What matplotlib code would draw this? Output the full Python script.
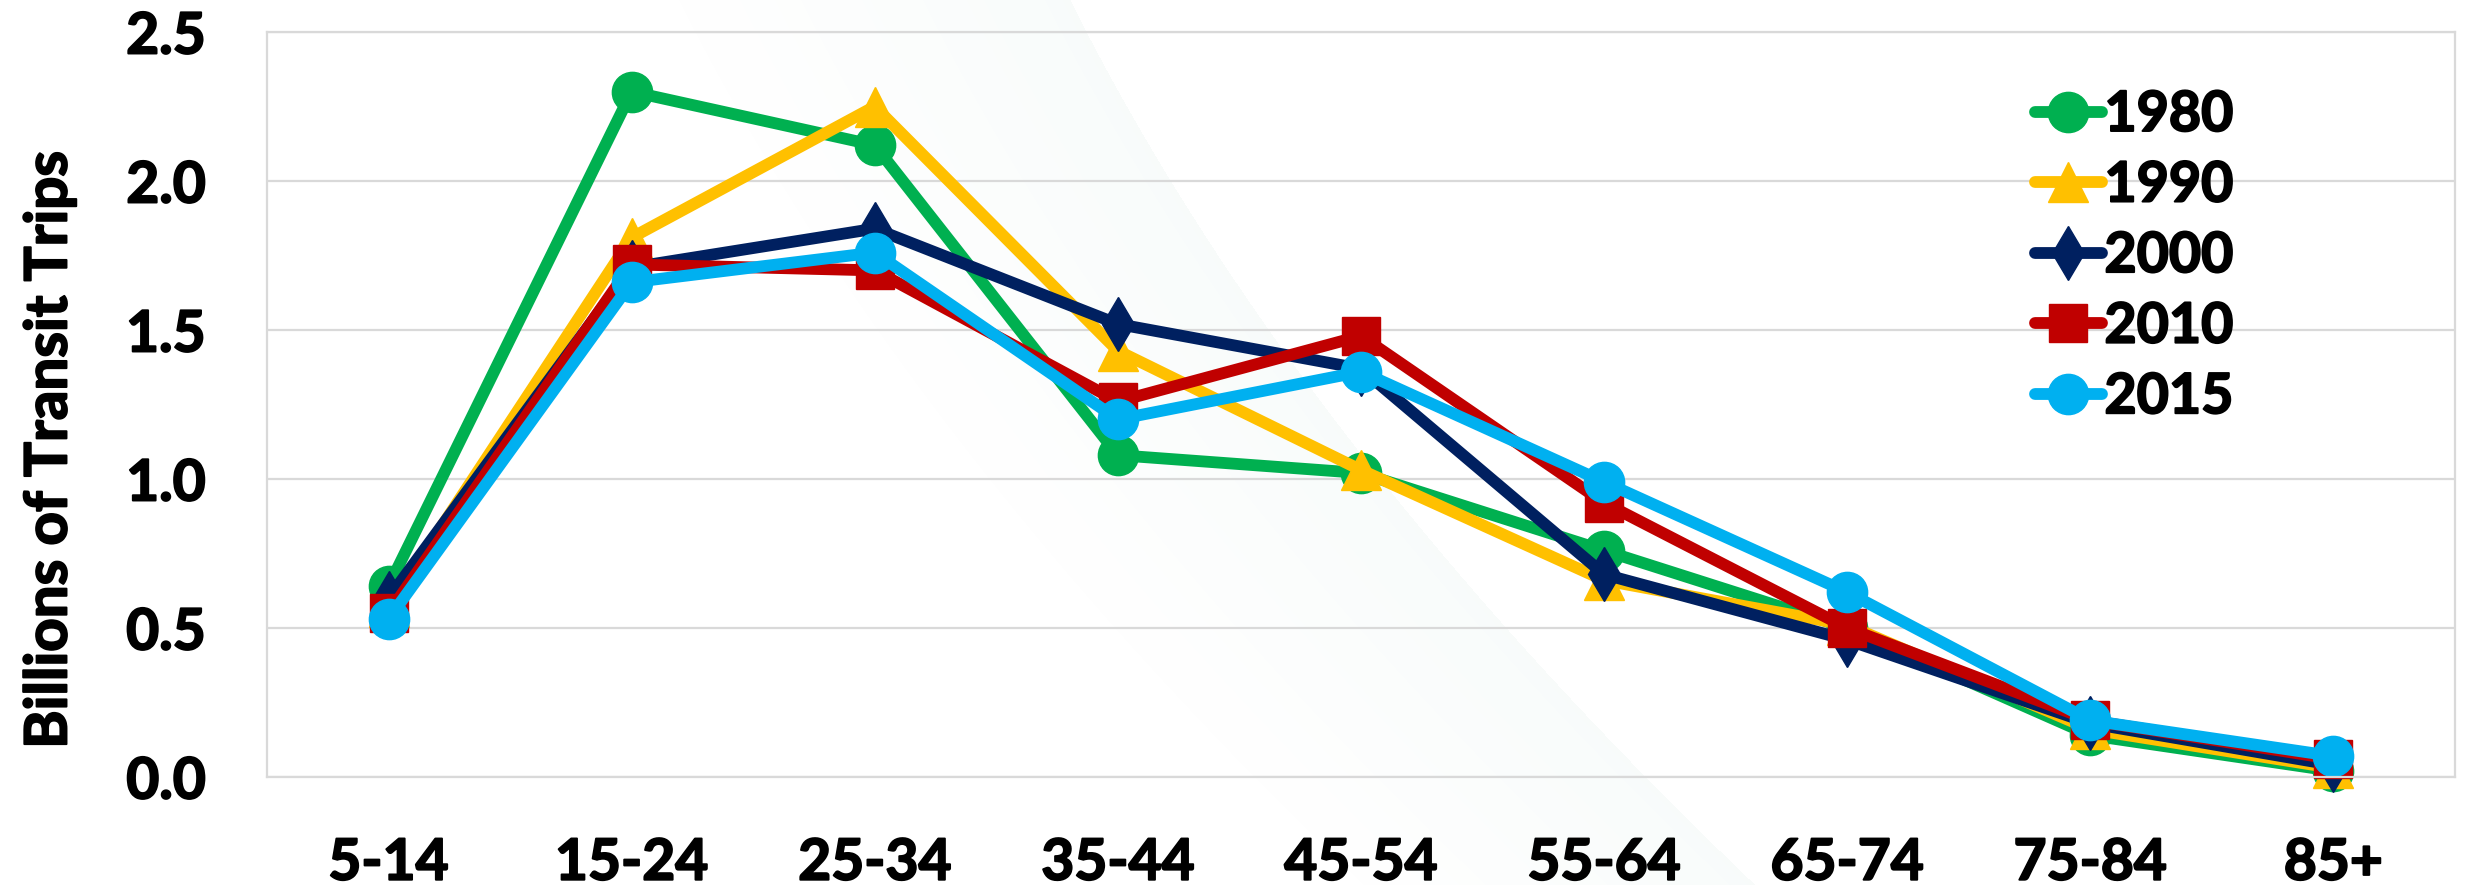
import numpy as np
import matplotlib
import matplotlib.pyplot as plt
import matplotlib.patheffects as pe

matplotlib.use("Agg")

ages = ["5-14", "15-24", "25-34", "35-44", "45-54", "55-64", "65-74", "75-84", "85+"]
years = ["1980", "1990", "2000", "2010", "2015"]

# billions of transit trips by age group
trips_1980 = [0.64, 2.30, 2.12, 1.08, 1.02, 0.76, 0.50, 0.14, 0.02]
trips_1990 = [0.57, 1.81, 2.25, 1.43, 1.03, 0.66, 0.51, 0.16, 0.03]
trips_2000 = [0.60, 1.71, 1.84, 1.52, 1.37, 0.68, 0.46, 0.18, 0.04]
trips_2010 = [0.55, 1.72, 1.70, 1.26, 1.48, 0.92, 0.50, 0.19, 0.06]
trips_2015 = [0.53, 1.66, 1.76, 1.20, 1.36, 0.99, 0.62, 0.19, 0.07]

y_ticks = [0.0, 0.5, 1.0, 1.5, 2.0, 2.5]

series = [trips_1980, trips_1990, trips_2000, trips_2010, trips_2015]
colors = ["#00B050", "#FFC000", "#002060", "#C00000", "#00B0F0"]
markers = ["o", "^", "d", "s", "o"]
msizes = [29, 29, 28, 28, 29]

plt.rcParams["font.family"] = ["Lato", "DejaVu Sans"]
plt.rcParams["font.weight"] = "bold"

# thicken the bold glyphs a little
heavy = [pe.withStroke(linewidth=1.4, foreground="black")]

W, H = 2468, 885
fig = plt.figure(figsize=(W / 100, H / 100), dpi=100)

# faint slide shading behind the chart
bg = fig.add_axes([0, 0, 1, 1], zorder=-1)
yy, xx = np.mgrid[0:H, 0:W]
edge = 1070 + 0.5 * yy + 3.1e-4 * yy ** 2
d = edge - xx
alpha = np.where(d >= 0, np.clip(1 - d / 400, 0, 1) * 0.18, 0)
shade = np.zeros((H, W, 4))
shade[..., 0] = 0.86
shade[..., 1] = 0.93
shade[..., 2] = 0.91
shade[..., 3] = alpha
bg.imshow(shade, extent=(0, W, H, 0), aspect="auto", interpolation="bilinear")
bg.set_xlim(0, W)
bg.set_ylim(H, 0)
bg.axis("off")

ax = fig.add_axes([267 / W, 1 - 777 / H, (2455 - 267) / W, (777 - 32) / H])
ax.set_facecolor("none")

x = np.arange(len(ages))
for vals, year, c, m, ms in zip(series, years, colors, markers, msizes):
    ax.plot(
        x,
        vals,
        color=c,
        marker=m,
        markersize=ms,
        linewidth=8.5,
        solid_capstyle="round",
        solid_joinstyle="round",
        label=year,
        clip_on=False,
    )

ax.set_xlim(-0.5, len(ages) - 0.5)
ax.set_ylim(0, 2.5)
ax.set_yticks(y_ticks)
ax.set_yticklabels([f"{v:.1f}" for v in y_ticks])
ax.set_xticks(x)
ax.set_xticklabels(ages)
ax.tick_params(axis="both", length=0, labelsize=41)
ax.tick_params(axis="y", pad=44)
ax.tick_params(axis="x", pad=43)
for lbl in ax.get_xticklabels() + ax.get_yticklabels():
    lbl.set_fontweight("bold")
    lbl.set_path_effects(heavy)

ax.grid(True, axis="y", color="#D9D9D9", linewidth=1.6, zorder=0)
ax.set_axisbelow(True)
for side in ax.spines.values():
    side.set_color("#D9D9D9")
    side.set_linewidth(1.6)

fig.text(50 / W, 1 - 450 / H, "Billions of Transit Trips", rotation=90,
         ha="center", va="center", fontsize=42, fontweight="bold",
         path_effects=heavy)

leg = ax.legend(
    loc="upper left",
    bbox_to_anchor=(2035 / W, 1 - 90 / H),
    bbox_transform=fig.transFigure,
    frameon=False,
    handlelength=1.2,
    handletextpad=0.05,
    labelspacing=0.37,
    borderpad=0,
    borderaxespad=0,
    prop={"weight": "bold", "size": 40},
)
for t in leg.get_texts():
    t.set_path_effects(heavy)

fig.savefig("out.png", dpi=100)
